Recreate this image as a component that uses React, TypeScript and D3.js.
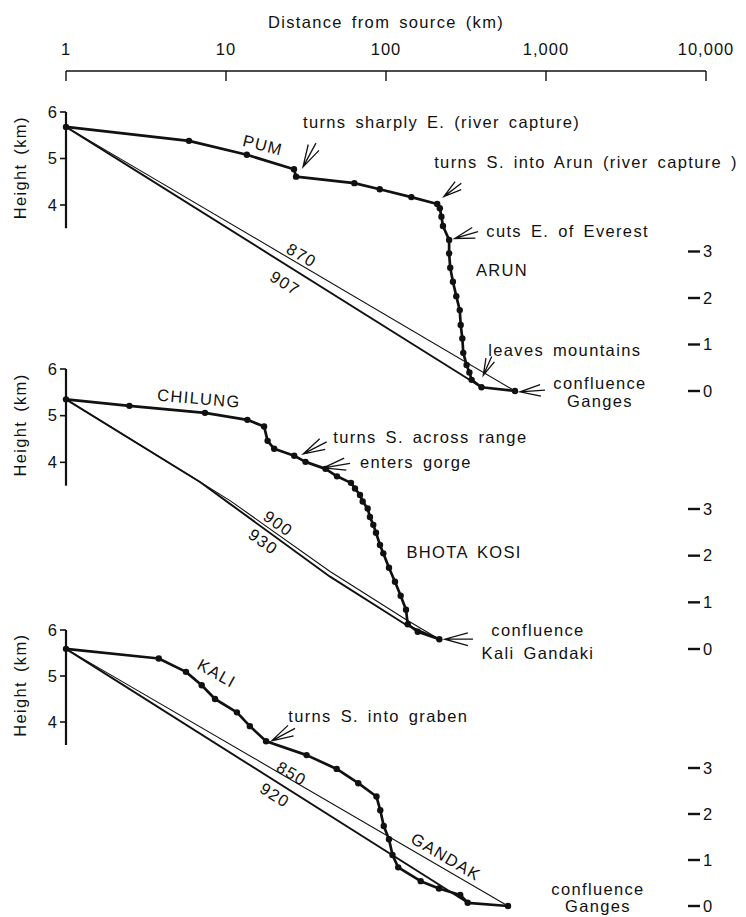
import React from 'react';
import * as d3 from 'd3';

// distance axis (log km) and height ticks
const distanceTicks = [1, 10, 100, 1000, 10000];
const distanceTickLabels = ['1', '10', '100', '1,000', '10,000'];
const leftHeightTicks = [4, 5, 6];
const rightHeightTicks = [0, 1, 2, 3];

// Pum - Arun profile
const arunDistance = [1, 5.87, 13.5, 26.6, 27.4, 63.4, 91.4, 144, 209, 217, 222, 227, 248, 248, 252, 262, 275, 289, 293, 300, 304, 319, 332, 343, 395, 640];
const arunHeight = [5.68, 5.38, 5.08, 4.77, 4.61, 4.47, 4.34, 4.17, 4.02, 3.93, 3.75, 3.55, 3.25, 2.96, 2.65, 2.35, 2.04, 1.74, 1.42, 1.13, 0.82, 0.56, 0.4, 0.24, 0.08, 0];
const arun870Distance = [1, 640];
const arun870Height = [5.68, 0];
const arun907Distance = [1, 395];
const arun907Height = [5.68, 0.08];

// Chilung - Bhota Kosi profile
const bhotaDistance = [1, 2.49, 7.39, 13.6, 17.3, 18.2, 20.0, 26.7, 31.4, 41.9, 49.4, 60.4, 64.0, 68.8, 71.5, 76.8, 79.4, 83.3, 86.6, 91.7, 96.2, 104.4, 113.8, 123.5, 133.4, 136.7, 157.9, 215.4];
const bhotaHeight = [5.35, 5.21, 5.06, 4.91, 4.77, 4.46, 4.29, 4.14, 4.01, 3.86, 3.7, 3.56, 3.44, 3.3, 3.16, 3.01, 2.83, 2.66, 2.49, 2.23, 2.05, 1.74, 1.44, 1.14, 0.84, 0.53, 0.37, 0.21];
const bhota900Distance = [1, 6.88, 10.6, 44.7, 134.7, 215.4];
const bhota900Height = [5.35, 3.58, 3.18, 1.66, 0.62, 0.21];
const bhota930Distance = [1, 6.88, 10.6, 44.7, 134.7, 215.4];
const bhota930Height = [5.35, 3.58, 3.11, 1.55, 0.51, 0.21];

// Kali - Gandak profile
const kaliDistance = [1, 3.8, 5.62, 7.05, 8.54, 11.7, 14.1, 17.8, 31.9, 49.2, 67.1, 87.2, 92.1, 96.8, 104.4, 109.8, 119.2, 164.8, 214.3, 291, 324, 579];
const kaliHeight = [5.59, 5.38, 5.09, 4.8, 4.5, 4.21, 3.91, 3.58, 3.28, 2.98, 2.67, 2.38, 2.08, 1.74, 1.45, 1.11, 0.84, 0.54, 0.38, 0.24, 0.07, 0];
const kali850Distance = [1, 579];
const kali850Height = [5.59, 0];
const kali920Distance = [1, 324];
const kali920Height = [5.59, 0.07];

type Pt = [number, number];
type Note = { text: string; d: number; h: number; anchor?: string; rotate?: number };
type Arrow = { from: Pt; to: Pt };

const zip = (d: number[], h: number[]): Pt[] => d.map((v, i) => [v, h[i]]);

const panels = [
  {
    top: 112, zero: 391,
    river: zip(arunDistance, arunHeight),
    upper: zip(arun870Distance, arun870Height), upperLabel: { text: '870', d: 29.7, h: 2.92 },
    lower: zip(arun907Distance, arun907Height), lowerLabel: { text: '907', d: 23.4, h: 2.32 },
    notes: [
      { text: 'turns sharply E. (river capture)', d: 30.3, h: 5.78 },
      { text: 'PUM', d: 17.0, h: 5.29, anchor: 'middle', rotate: 14 },
      { text: 'turns S. into Arun (river capture )', d: 200, h: 4.93 },
      { text: 'cuts E. of Everest', d: 423.6, h: 3.43 },
      { text: 'ARUN', d: 365, h: 2.6 },
      { text: 'leaves mountains', d: 435.7, h: 0.88 },
      { text: 'confluence', d: 2175, h: 0.17, anchor: 'middle' },
      { text: 'Ganges', d: 2175, h: -0.23, anchor: 'middle' },
    ] as Note[],
    arrows: [
      { from: [36.5, 5.33], to: [30.3, 4.82] },
      { from: [295.6, 4.47], to: [230, 4.18] },
      { from: [375.8, 3.43], to: [268.7, 3.28] },
      { from: [457.8, 0.74], to: [405.6, 0.34] },
      { from: [986, 0.02], to: [688, -0.02] },
    ] as Arrow[],
  },
  {
    top: 369, zero: 649,
    river: zip(bhotaDistance, bhotaHeight),
    upper: zip(bhota900Distance, bhota900Height), upperLabel: { text: '900', d: 21.2, h: 2.69 },
    lower: zip(bhota930Distance, bhota930Height), lowerLabel: { text: '930', d: 17.1, h: 2.3 },
    notes: [
      { text: 'CHILUNG', d: 6.78, h: 5.37, anchor: 'middle', rotate: 5 },
      { text: 'turns S. across range', d: 46.8, h: 4.54 },
      { text: 'enters gorge', d: 68.8, h: 4.01 },
      { text: 'BHOTA KOSI', d: 134.3, h: 2.08 },
      { text: 'confluence', d: 891, h: 0.41, anchor: 'middle' },
      { text: 'Kali Gandaki', d: 891, h: -0.09, anchor: 'middle' },
    ] as Note[],
    arrows: [
      { from: [42.6, 4.44], to: [30.4, 4.18] },
      { from: [59.6, 3.98], to: [40.6, 3.88] },
      { from: [349.6, 0.21], to: [232.8, 0.21] },
    ] as Arrow[],
  },
  {
    top: 630, zero: 906,
    river: zip(kaliDistance, kaliHeight),
    upper: zip(kali850Distance, kali850Height), upperLabel: { text: '850', d: 25.7, h: 2.88 },
    lower: zip(kali920Distance, kali920Height), lowerLabel: { text: '920', d: 20.2, h: 2.41 },
    notes: [
      { text: 'KALI', d: 8.75, h: 5.06, anchor: 'middle', rotate: 29 },
      { text: 'turns S. into graben', d: 24.5, h: 4.13 },
      { text: 'GANDAK', d: 237, h: 1.07, anchor: 'middle', rotate: 30.5 },
      { text: 'confluence', d: 2113, h: 0.37, anchor: 'middle' },
      { text: 'Ganges', d: 2113, h: -0.01, anchor: 'middle' },
    ] as Note[],
    arrows: [
      { from: [27.0, 3.86], to: [19.3, 3.59] },
    ] as Arrow[],
  },
];

const FONT = "'Liberation Sans', Arial, Helvetica, sans-serif";
const FS = 16.5;
const textStyle = { letterSpacing: '1.35px', wordSpacing: '3px' };

const x = d3.scaleLog().domain([1, 10000]).range([66, 706]);
const axisY = 71;
const rightTickX = 688;

function angleOn(line: Pt[], d: number, y: d3.ScaleLinear<number, number>) {
  let i = line.findIndex((p) => p[0] >= d);
  if (i < 1) i = 1;
  const [a, b] = [line[i - 1], line[i]];
  return (Math.atan2(y(b[1]) - y(a[1]), x(b[0]) - x(a[0])) * 180) / Math.PI;
}

function ArrowMark({ x1, y1, x2, y2 }: { x1: number; y1: number; x2: number; y2: number }) {
  const a = Math.atan2(y1 - y2, x1 - x2);
  const len = Math.hypot(x1 - x2, y1 - y2) * 0.85;
  const s = 0.27;
  const b1 = [x2 + len * Math.cos(a + s), y2 + len * Math.sin(a + s)];
  const b2 = [x2 + len * Math.cos(a - s), y2 + len * Math.sin(a - s)];
  return (
    <path
      d={`M${x1},${y1}L${x2},${y2}M${b1[0]},${b1[1]}L${x2},${y2}L${b2[0]},${b2[1]}`}
      fill="none" stroke="#111" strokeWidth={1.3}
    />
  );
}

function Panel({ p }: { p: (typeof panels)[number] }) {
  const y = d3.scaleLinear().domain([0, 6]).range([p.zero, p.top]);
  const line = d3.line<Pt>().x((d) => x(d[0])).y((d) => y(d[1]));
  const x0 = x(1);
  return (
    <g>
      {/* left height axis */}
      <line x1={x0} x2={x0} y1={y(6)} y2={y(3.5)} stroke="#111" strokeWidth={2.2} />
      {leftHeightTicks.map((t) => (
        <g key={t}>
          <line x1={x0 - 6} x2={x0} y1={y(t)} y2={y(t)} stroke="#111" strokeWidth={1.6} />
          <text x={x0 - 9} y={y(t)} dy="0.35em" textAnchor="end" fontSize={FS}>{t}</text>
        </g>
      ))}
      <text transform={`translate(20,${y(4.8)}) rotate(-90)`} textAnchor="middle" dy="0.35em" fontSize={FS} style={textStyle}>
        Height (km)
      </text>
      {/* right height ticks */}
      {rightHeightTicks.map((t) => (
        <g key={t}>
          <line x1={rightTickX} x2={rightTickX + 12} y1={y(t)} y2={y(t)} stroke="#111" strokeWidth={2.4} />
          <text x={rightTickX + 15} y={y(t)} dy="0.35em" fontSize={FS}>{t}</text>
        </g>
      ))}
      {/* graded profiles */}
      <path d={line(p.upper) ?? ''} fill="none" stroke="#111" strokeWidth={1.1} />
      <path d={line(p.lower) ?? ''} fill="none" stroke="#111" strokeWidth={1.9} />
      {[{ l: p.upperLabel, ln: p.upper }, { l: p.lowerLabel, ln: p.lower }].map(({ l, ln }) => (
        <text key={l.text} transform={`translate(${x(l.d)},${y(l.h)}) rotate(${angleOn(ln, l.d, y)})`}
          textAnchor="middle" dy="0.35em" fontSize={FS} style={textStyle}>{l.text}</text>
      ))}
      {/* river profile */}
      <path d={line(p.river) ?? ''} fill="none" stroke="#111" strokeWidth={2.7} strokeLinejoin="round" />
      {p.river.map((d, i) => (
        <circle key={i} cx={x(d[0])} cy={y(d[1])} r={3.2} fill="#111" />
      ))}
      {p.arrows.map((a, i) => (
        <ArrowMark key={i} x1={x(a.from[0])} y1={y(a.from[1])} x2={x(a.to[0])} y2={y(a.to[1])} />
      ))}
      {p.notes.map((n) => (
        <text key={n.text} transform={`translate(${x(n.d)},${y(n.h)}) rotate(${n.rotate ?? 0})`}
          textAnchor={n.anchor ?? 'start'} dy="0.35em" fontSize={FS} style={textStyle}>{n.text}</text>
      ))}
    </g>
  );
}

export default function App() {
  return (
    <svg width={746} height={917} viewBox="0 0 746 917"
      style={{ position: 'absolute', left: 0, top: 0, background: '#fff' }}
      fontFamily={FONT} fill="#111">
      <rect width={746} height={917} fill="#fff" />
      <text x={x(100)} y={22} dy="0.35em" textAnchor="middle" fontSize={FS} style={textStyle}>
        Distance from source (km)
      </text>
      <line x1={x(1)} x2={x(10000)} y1={axisY} y2={axisY} stroke="#111" strokeWidth={1.6} />
      {distanceTicks.map((t, i) => (
        <g key={t}>
          <line x1={x(t)} x2={x(t)} y1={axisY} y2={axisY + 10} stroke="#111" strokeWidth={1.4} />
          <text x={x(t)} y={49} dy="0.35em" textAnchor="middle" fontSize={FS} style={{ letterSpacing: '1px' }}>
            {distanceTickLabels[i]}
          </text>
        </g>
      ))}
      {panels.map((p, i) => (
        <Panel key={i} p={p} />
      ))}
    </svg>
  );
}
